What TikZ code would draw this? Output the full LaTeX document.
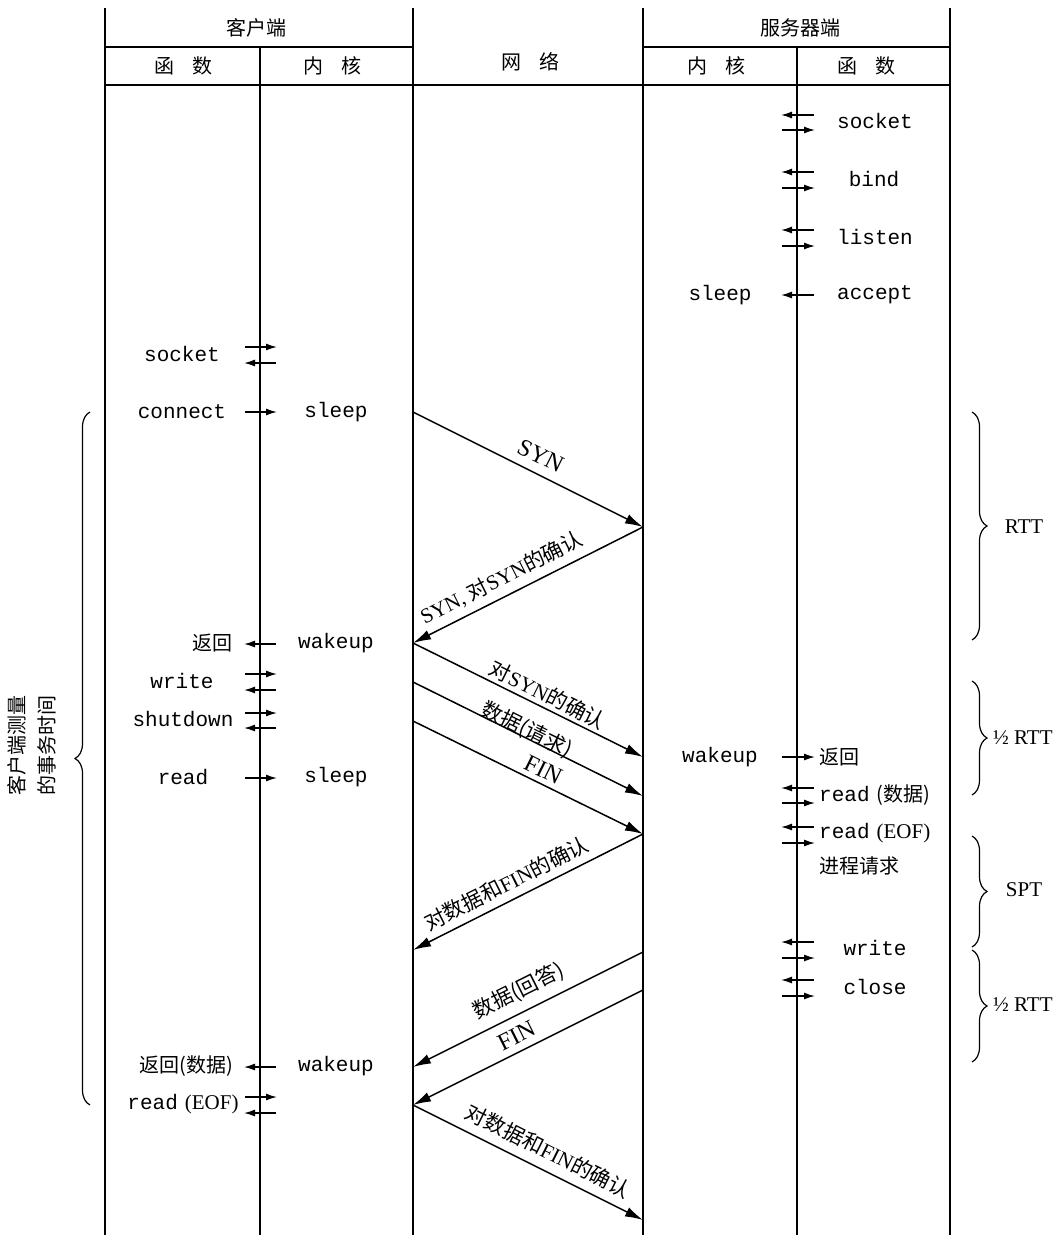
\documentclass[tikz,border=0pt]{standalone}
\usepackage{fontspec}
\setmainfont{Liberation Serif}
\setmonofont{Liberation Mono}
\newfontfamily\cjk{Noto Sans CJK SC}
\newcommand{\zhs}[1]{{\cjk #1}}
\usetikzlibrary{arrows.meta,decorations.pathreplacing}
\begin{document}
\begin{tikzpicture}[x=1pt,y=-1pt,
  life/.style={line width=1.3pt},
  msg/.style={line width=1.5pt,-{Latex[length=18pt,width=10pt]}},
  sa/.style={line width=1.4pt,-{Latex[length=11pt,width=7pt]}},
  fn/.style={font=\ttfamily\fontsize{21}{24}\selectfont,inner sep=0pt},
  zh/.style={font=\cjk\fontsize{20}{24}\selectfont,inner sep=0pt},
  hd/.style={font=\cjk\fontsize{20}{24}\selectfont,inner sep=0pt},
  lab/.style={sloped,font=\fontsize{21}{24}\selectfont,inner sep=0pt},
  big/.style={sloped,font=\fontsize{24}{26}\selectfont,inner sep=0pt},
  br/.style={line width=1.2pt,decorate,decoration={brace,amplitude=15pt}},
  rl/.style={font=\fontsize{21}{24}\selectfont,inner sep=0pt}]
\useasboundingbox (0,0) rectangle (1060,1237);

% frame / lifelines
\draw[life] (105,8) -- (105,1235);
\draw[life] (413,8) -- (413,1235);
\draw[life] (643,8) -- (643,1235);
\draw[life] (950,8) -- (950,1235);
\draw[life] (260,47) -- (260,1235);
\draw[life] (797,47) -- (797,1235);
\draw[life] (105,47) -- (413,47);
\draw[life] (643,47) -- (950,47);
\draw[life] (105,85) -- (950,85);

% headers
\node[hd] (hc) at (256,28) {客户端};
\node[hd] (hs) at (800,28) {服务器端};
\node[hd] (hcf) at (183,66) {函\hspace{18pt}数};
\node[hd] (hck) at (332,66) {内\hspace{18pt}核};
\node[hd] (hn) at (530,62) {网\hspace{18pt}络};
\node[hd] (hsk) at (716,66) {内\hspace{18pt}核};
\node[hd] (hsf) at (866,66) {函\hspace{18pt}数};

% server functions
\node[fn] (s1) at (875,121) {socket};
\node[fn] (s2) at (874,179) {bind};
\node[fn] (s3) at (875,237) {listen};
\node[fn] (s4) at (875,295) {accept};
\node[fn] (sk1) at (720,295) {sleep};
\node[fn] (sk2) at (720,757) {wakeup};
\node[zh,anchor=west] (s5) at (819,757) {返回};
\node[anchor=west,inner sep=0pt] (s6) at (819,795) {\ttfamily\fontsize{21}{24}\selectfont read\kern7pt{\cjk\fontsize{20}{24}\selectfont (数据)}};
\node[anchor=west,inner sep=0pt] (s7) at (819,833) {\ttfamily\fontsize{21}{24}\selectfont read\kern7pt{\rmfamily\fontsize{21}{24}\selectfont (EOF)}};
\node[zh,anchor=west] (s8) at (819,866) {进程请求};
\node[fn] (s9) at (875,948) {write};
\node[fn] (s10) at (875,987) {close};

% client functions
\node[fn] (c1) at (182,354) {socket};
\node[fn] (c2) at (182,412) {connect};
\node[fn] (ck1) at (336,412) {sleep};
\node[zh] (c3) at (212,643) {返回};
\node[fn] (ck2) at (336,643) {wakeup};
\node[fn] (c4) at (182,681) {write};
\node[fn] (c5) at (183,719) {shutdown};
\node[fn] (c6) at (183,777) {read};
\node[fn] (ck3) at (336,777) {sleep};
\node[zh] (c7) at (186,1066) {返回(数据)};
\node[fn] (ck4) at (336,1066) {wakeup};
\node[inner sep=0pt] (c8) at (183,1104) {\ttfamily\fontsize{21}{24}\selectfont read\kern7pt{\rmfamily\fontsize{21}{24}\selectfont (EOF)}};

% small call arrows
\foreach \y in {347,412,674,713,778,1097} \draw[sa] (245,\y) -- (277,\y);
\foreach \y in {363,644,690,728,1067,1113} \draw[sa] (276,\y) -- (244,\y);
\foreach \y in {115,172,230,295,788,827,942,980} \draw[sa] (814,\y) -- (781,\y);
\foreach \y in {130,188,246,757,803,843,958,996} \draw[sa] (782,\y) -- (815,\y);

% message end points
\coordinate (m1a) at (413,412);
\coordinate (m1b) at (643,527);
\coordinate (m2b) at (413,643);
\coordinate (m3b) at (643,757);
\coordinate (m4a) at (413,682);
\coordinate (m4b) at (643,796);
\coordinate (m5a) at (413,721);
\coordinate (m5b) at (643,834);
\coordinate (m6b) at (413,950);
\coordinate (m7a) at (643,952);
\coordinate (m7b) at (413,1067);
\coordinate (m8a) at (643,990);
\coordinate (m8b) at (413,1105);
\coordinate (m9b) at (643,1220);

\draw[msg] (m1a) -- node[big,pos=0.52,above=9pt]{SYN} (m1b);
\draw[msg] (m1b) -- node[lab,pos=0.58,above=7pt]{SYN, \zhs{对}SYN\zhs{的确认}} (m2b);
\draw[msg] (m2b) -- node[lab,pos=0.56,above=3pt]{\zhs{对}SYN\zhs{的确认}} (m3b);
\draw[msg] (m4a) -- node[lab,pos=0.48,above=-4pt]{\zhs{数据(请求)}} (m4b);
\draw[msg] (m5a) -- node[big,pos=0.54,above=5pt]{FIN} (m5b);
\draw[msg] (m5b) -- node[lab,pos=0.56,above=7pt]{\zhs{对数据和}FIN\zhs{的确认}} (m6b);
\draw[msg] (m7a) -- node[lab,pos=0.5,above=9pt]{\zhs{数据(回答)}} (m7b);
\draw[msg] (m8a) -- node[big,pos=0.52,above=7pt]{FIN} (m8b);
\draw[msg] (m8b) -- node[lab,pos=0.55,above=9pt]{\zhs{对数据和}FIN\zhs{的确认}} (m9b);

% braces
\coordinate (bl1) at (90,1105);
\coordinate (bl2) at (90,412);
\draw[br] (bl1) -- (bl2);
\node[hd,rotate=90,align=center] (bll) at (32,745) {客户端测量\\[6pt]的事务时间};

\coordinate (br1a) at (972,412);
\coordinate (br1b) at (972,640);
\draw[br] (br1a) -- (br1b);
\node[rl] (rtt1) at (1024,527) {RTT};
\coordinate (br2a) at (972,681);
\coordinate (br2b) at (972,795);
\draw[br] (br2a) -- (br2b);
\node[rl,anchor=west] (rtt2) at (993,738) {½ RTT};
\coordinate (br3a) at (972,836);
\coordinate (br3b) at (972,947);
\draw[br] (br3a) -- (br3b);
\node[rl] (spt) at (1024,890) {SPT};
\coordinate (br4a) at (972,950);
\coordinate (br4b) at (972,1062);
\draw[br] (br4a) -- (br4b);
\node[rl,anchor=west] (rtt3) at (993,1005) {½ RTT};
\end{tikzpicture}
\end{document}
